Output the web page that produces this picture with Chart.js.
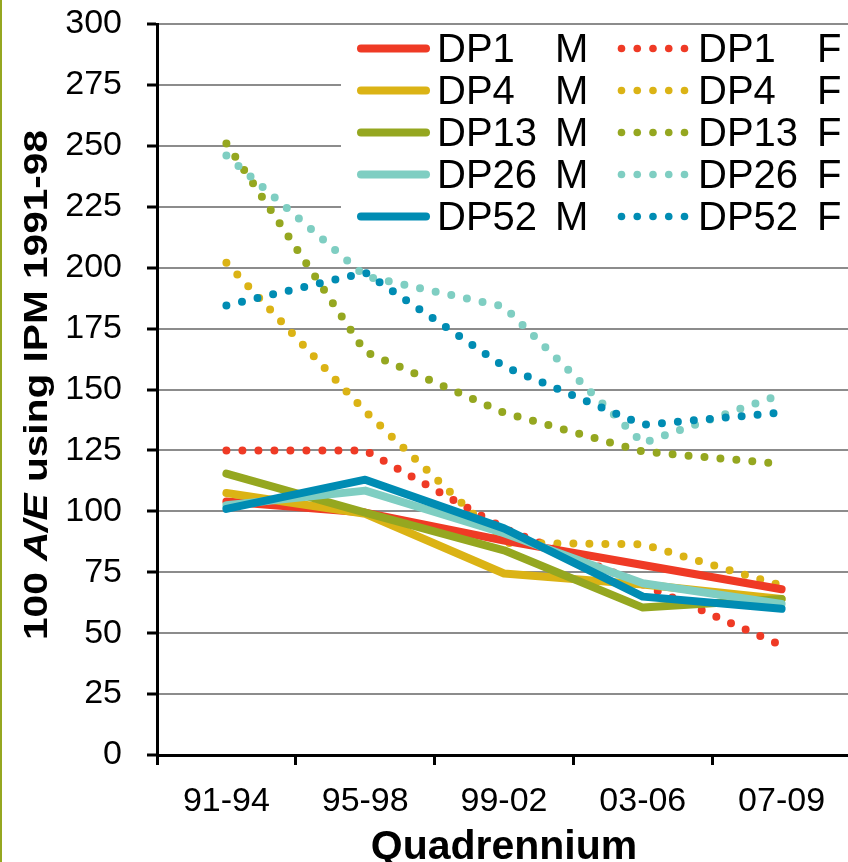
<!DOCTYPE html>
<html>
<head>
<meta charset="utf-8">
<title>100 A/E using IPM 1991-98 by quadrennium</title>
<script src="https://cdn.jsdelivr.net/npm/chart.js@4.4.0/dist/chart.umd.min.js"></script>
<style>
    html, body { margin: 0; padding: 0; background: #fff; }
    /* the plot runs a few pixels past the right edge of the picture */
    #wrap { width: 848px; height: 862px; position: relative; overflow: hidden; }
</style>
</head>
<body>
<div id="wrap"><canvas id="chart" width="851" height="862"></canvas></div>
<script>
// Categories and tick values
const quadrennia = ["91-94", "95-98", "99-02", "03-06", "07-09"];
const y_ticks = [0, 25, 50, 75, 100, 125, 150, 175, 200, 225, 250, 275, 300];

// Males (solid lines)
const dp1_m = [104, 99.5, 88, 78, 68];
const dp4_m = [107.5, 99, 74.5, 70, 64];
const dp13_m = [115.5, 99.5, 84, 60.5, 64];
const dp26_m = [102.5, 108.5, 91, 70.5, 62];
const dp52_m = [101, 113, 93, 65, 60];

// Females (dotted lines)
const dp1_f = [125, 125, 93, 70, 45];
const dp4_f = [202, 141, 87, 86.5, 69.5];
const dp13_f = [251, 165.5, 140.5, 124.5, 119.5];
const dp26_f = [246, 196.5, 184, 128, 148];
const dp52_f = [184.5, 198, 159.5, 135.5, 140.5];

const font_family = '"Liberation Sans", Arial, Helvetica, sans-serif';

// Colours
const red = "#EF3A25";
const gold = "#DBB315";
const olive = "#95A720";
const teal = "#7FCEC2";
const blue = "#008CB3";

function solid(label, data, colour, order) {
    return {
        label: label,
        data: data,
        borderColor: colour,
        backgroundColor: colour,
        borderWidth: 8,
        borderCapStyle: "round",
        borderJoinStyle: "round",
        pointRadius: 0,
        tension: 0,
        order: order
    };
}

function dotted(label, data, colour, order) {
    return {
        label: label,
        data: data,
        borderColor: colour,
        backgroundColor: colour,
        borderWidth: 8,
        borderDash: [0, 16],
        borderCapStyle: "round",
        borderJoinStyle: "round",
        pointRadius: 0,
        tension: 0,
        order: order
    };
}

// Legend drawn inside the plot, two columns of five rows
const legend_box = {
    id: "legend_box",
    afterDatasetsDraw(chart) {
        const ctx = chart.ctx;
        ctx.save();
        ctx.fillStyle = "#fff";
        ctx.fillRect(341, 27, 510, 209);
        ctx.font = "40px " + font_family;
        ctx.textBaseline = "middle";
        chart.data.datasets.forEach((ds, i) => {
            const col = i < 5 ? 0 : 1;
            const y = 48.5 + (i % 5) * 42;
            ctx.strokeStyle = ds.borderColor;
            ctx.fillStyle = ds.borderColor;
            if (col === 0) {
                ctx.lineWidth = 8;
                ctx.lineCap = "round";
                ctx.beginPath();
                ctx.moveTo(361, y);
                ctx.lineTo(426, y);
                ctx.stroke();
            } else {
                for (let k = 0; k < 5; k++) {
                    ctx.beginPath();
                    ctx.arc(621.5 + k * 15.75, y, 3.8, 0, Math.PI * 2);
                    ctx.fill();
                }
            }
            const parts = ds.label.split(" ");
            ctx.fillStyle = "#000";
            ctx.fillText(parts[0], col === 0 ? 437 : 698, y + 2);
            ctx.fillText(parts[1], col === 0 ? 555 : 817, y + 2);
        });
        ctx.restore();
    }
};

// Rotated y title with the italic A/E, plus the thin olive frame line on the left
const y_title = {
    id: "y_title",
    afterDraw(chart) {
        const ctx = chart.ctx;
        ctx.save();
        ctx.fillStyle = "#95A720";
        ctx.fillRect(0, 0, 2, 862);

        const pieces = [
            { text: "100 ", font: "bold 34px " + font_family },
            { text: "A/E", font: "italic bold 34px " + font_family },
            { text: " using IPM 1991-98", font: "bold 34px " + font_family }
        ];
        let total = 0;
        pieces.forEach((p) => {
            ctx.font = p.font;
            p.width = ctx.measureText(p.text).width;
            total += p.width;
        });
        ctx.translate(47, 385);
        ctx.rotate(-Math.PI / 2);
        ctx.scale(510 / total, 1);
        ctx.fillStyle = "#000";
        ctx.textBaseline = "alphabetic";
        ctx.textAlign = "left";
        let x = -total / 2;
        pieces.forEach((p) => {
            ctx.font = p.font;
            ctx.fillText(p.text, x, 0);
            x += p.width;
        });
        ctx.restore();
    }
};

const data = {
    labels: quadrennia,
    datasets: [
        solid("DP1 M", dp1_m, red, 4),
        solid("DP4 M", dp4_m, gold, 3),
        solid("DP13 M", dp13_m, olive, 2),
        solid("DP26 M", dp26_m, teal, 1),
        solid("DP52 M", dp52_m, blue, 0),
        dotted("DP1 F", dp1_f, red, 9),
        dotted("DP4 F", dp4_f, gold, 8),
        dotted("DP13 F", dp13_f, olive, 7),
        dotted("DP26 F", dp26_f, teal, 6),
        dotted("DP52 F", dp52_f, blue, 5)
    ]
};

const config = {
    type: "line",
    data: data,
    options: {
        responsive: false,
        animation: false,
        devicePixelRatio: 1,
        layout: {
            padding: 0
        },
        scales: {
            x: {
                offset: true,
                grid: {
                    offset: true,
                    drawOnChartArea: false,
                    drawTicks: true,
                    tickLength: 10,
                    tickWidth: 3,
                    tickColor: "#000"
                },
                border: { display: true, color: "#000", width: 3 },
                ticks: {
                    color: "#000",
                    padding: 16,
                    maxRotation: 0,
                    autoSkip: false,
                    font: { size: 34, family: font_family }
                },
                title: {
                    display: true,
                    text: "Quadrennium",
                    color: "#000",
                    padding: { top: 0, bottom: -6 },
                    font: { size: 41, weight: "bold", family: font_family, lineHeight: 1 }
                },
                afterFit: (scale) => {
                    scale.height = 107;
                    scale.paddingLeft = 0;
                    scale.paddingRight = 0;
                }
            },
            y: {
                min: 0,
                max: 300,
                afterBuildTicks: (scale) => {
                    scale.ticks = y_ticks.map((v) => ({ value: v }));
                },
                grid: {
                    color: "#8c8c8c",
                    lineWidth: 2,
                    drawTicks: true,
                    tickLength: 10,
                    tickWidth: 3,
                    tickColor: "#000"
                },
                border: { display: true, color: "#000", width: 3 },
                ticks: {
                    color: "#000",
                    padding: 25,
                    font: { size: 34, family: font_family }
                },
                afterFit: (scale) => {
                    // plot top sits at 24px from the top, as in the picture
                    scale.width = 157;
                    scale.paddingTop = 24;
                    scale.paddingBottom = 0;
                }
            }
        },
        plugins: {
            legend: { display: false },
            tooltip: { enabled: false }
        }
    },
    plugins: [legend_box, y_title]
};

const chart_ctx = document.getElementById("chart").getContext("2d");
const ae_chart = new Chart(chart_ctx, config);
</script>
</body>
</html>
